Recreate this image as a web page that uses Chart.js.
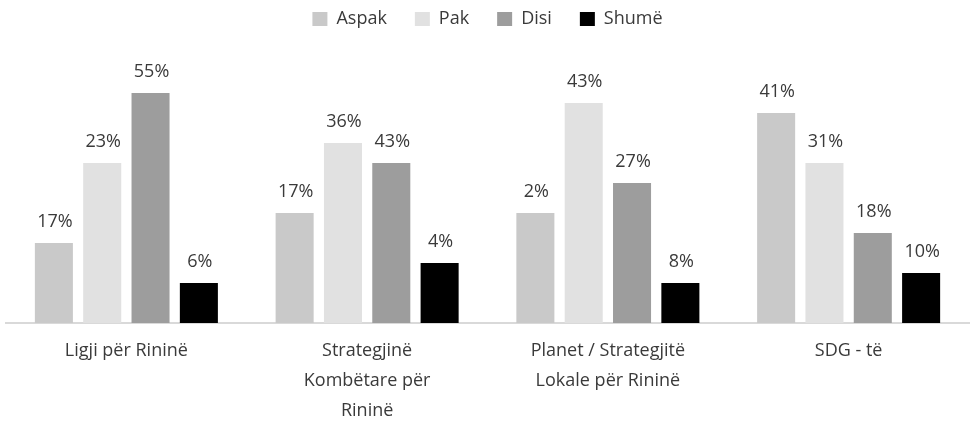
<!DOCTYPE html>
<html>
<head>
<meta charset="utf-8">
<script src="https://cdn.jsdelivr.net/npm/chart.js"></script>
<style>
  html, body { margin: 0; padding: 0; background: #fff; }
  #wrap { width: 971px; height: 421px; }
</style>
</head>
<body>
<div id="wrap"><canvas id="chart" width="971" height="421"></canvas></div>
<script>
// categories (multi-line like the original)
const categories = [
  'Ligji për Rininë',
  ['Strategjinë', 'Kombëtare për', 'Rininë'],
  ['Planet / Strategjitë', 'Lokale për Rininë'],
  'SDG - të'
];
const seriesNames = ['Aspak', 'Pak', 'Disi', 'Shumë'];

// bar heights as drawn
const aspakValues = [8, 11, 11, 21];
const pakValues   = [16, 18, 22, 16];
const disiValues  = [23, 16, 14, 9];
const shumeValues = [4, 6, 4, 5];

// label text shown above each bar
const aspakLabels = ['17%', '17%', '2%', '41%'];
const pakLabels   = ['23%', '36%', '43%', '31%'];
const disiLabels  = ['55%', '43%', '27%', '18%'];
const shumeLabels = ['6%', '4%', '8%', '10%'];

const colors = ['#c9c9c9', '#e1e1e1', '#9d9d9d', '#000000'];
const textColor = '#3a3a3a';
const fontFamily = '"Open Sans", "Noto Sans", sans-serif';

const allValues = [aspakValues, pakValues, disiValues, shumeValues];
const allLabels = [aspakLabels, pakLabels, disiLabels, shumeLabels];

// simple inline plugin for value labels above bars
const barLabels = {
  id: 'barLabels',
  afterDatasetsDraw(chart) {
    const ctx = chart.ctx;
    ctx.save();
    ctx.font = '18px ' + fontFamily;
    ctx.fillStyle = textColor;
    ctx.textAlign = 'center';
    ctx.textBaseline = 'alphabetic';
    chart.data.datasets.forEach((ds, i) => {
      chart.getDatasetMeta(i).data.forEach((bar, j) => {
        ctx.fillText(ds.labelsText[j], bar.x + 1, bar.y - 16);
      });
    });
    ctx.restore();
  }
};

new Chart(document.getElementById('chart').getContext('2d'), {
  type: 'bar',
  data: {
    labels: categories,
    datasets: seriesNames.map((name, i) => ({
      label: name,
      data: allValues[i],
      labelsText: allLabels[i],
      backgroundColor: colors[i],
      borderWidth: 0,
      categoryPercentage: 0.803,
      barPercentage: 0.787
    }))
  },
  options: {
    responsive: false,
    animation: false,
    // legend needs wide item spacing, so pull it up to keep the top gap small
    layout: { padding: { left: 6, right: 2, top: -18, bottom: 0 } },
    plugins: {
      legend: {
        display: true,
        position: 'top',
        maxHeight: 56,
        labels: {
          boxWidth: 15,
          boxHeight: 14,
          padding: 28,
          color: textColor,
          font: { family: fontFamily, size: 18 }
        }
      },
      tooltip: { enabled: false }
    },
    scales: {
      x: {
        grid: { display: false, drawTicks: false },
        border: { display: true, color: '#d9d9d9', width: 2 },
        ticks: {
          color: textColor,
          padding: 13,
          maxRotation: 0,
          autoSkip: false,
          font: { family: fontFamily, size: 18, lineHeight: '30px' }
        },
        afterFit(scale) { scale.height = 98; }
      },
      y: {
        display: false,
        min: 0,
        max: 28.5
      }
    }
  },
  plugins: [barLabels]
});
</script>
</body>
</html>
